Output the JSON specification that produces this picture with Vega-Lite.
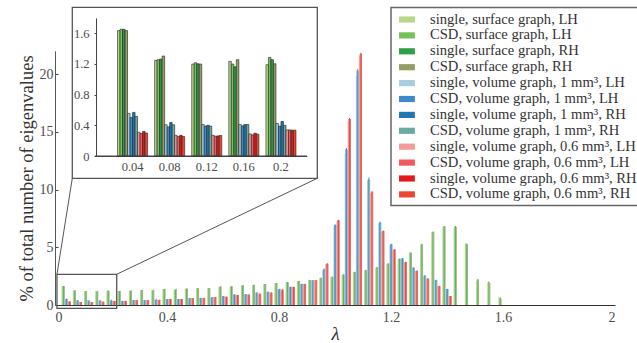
{
"$schema":"https://vega.github.io/schema/vega-lite/v6.json",
"width":560,"height":300,
"autosize":{"type":"none"},
"padding":{"left":55,"top":5,"right":22,"bottom":38},
"config":{"view":{"stroke":null},"font":"Liberation Serif",
"text":{"font":"Liberation Serif"},
"axis":{"labelFont":"Liberation Serif","titleFont":"Liberation Serif","labelColor":"#4d4d4d","titleColor":"#333333","domainColor":"#444444","tickColor":"#444444","grid":false,"titleFontWeight":"normal"},
"legend":{"strokeWidth":1.5,"labelFont":"Liberation Serif"}},
"datasets":{
"series":[{"s":"a","label":"single, surface graph, LH"},{"s":"b","label":"CSD, surface graph, LH"},{"s":"c","label":"single, surface graph, RH"},{"s":"d","label":"CSD, surface graph, RH"},{"s":"e","label":"single, volume graph, 1 mm³, LH"},{"s":"f","label":"CSD, volume graph, 1 mm³, LH"},{"s":"g","label":"single, volume graph, 1 mm³, RH"},{"s":"h","label":"CSD, volume graph, 1 mm³, RH"},{"s":"i","label":"single, volume graph, 0.6 mm³, LH"},{"s":"j","label":"CSD, volume graph, 0.6 mm³, LH"},{"s":"k","label":"single, volume graph, 0.6 mm³, RH"},{"s":"l","label":"CSD, volume graph, 0.6 mm³, RH"}],
"main":[
{"lam":0.04,"s":"a","pct":1.635},{"lam":0.04,"s":"b","pct":1.652},{"lam":0.04,"s":"c","pct":1.652},{"lam":0.04,"s":"d","pct":1.635},{"lam":0.04,"s":"e","pct":0.555},{"lam":0.04,"s":"f","pct":0.503},{"lam":0.04,"s":"g","pct":0.568},{"lam":0.04,"s":"h","pct":0.516},{"lam":0.04,"s":"i","pct":0.31},{"lam":0.04,"s":"j","pct":0.293},{"lam":0.04,"s":"k","pct":0.32},{"lam":0.04,"s":"l","pct":0.3},
{"lam":0.08,"s":"a","pct":1.246},{"lam":0.08,"s":"b","pct":1.255},{"lam":0.08,"s":"c","pct":1.263},{"lam":0.08,"s":"d","pct":1.303},{"lam":0.08,"s":"e","pct":0.407},{"lam":0.08,"s":"f","pct":0.38},{"lam":0.08,"s":"g","pct":0.437},{"lam":0.08,"s":"h","pct":0.407},{"lam":0.08,"s":"i","pct":0.27},{"lam":0.08,"s":"j","pct":0.254},{"lam":0.08,"s":"k","pct":0.27},{"lam":0.08,"s":"l","pct":0.254},
{"lam":0.12,"s":"a","pct":1.198},{"lam":0.12,"s":"b","pct":1.215},{"lam":0.12,"s":"c","pct":1.202},{"lam":0.12,"s":"d","pct":1.198},{"lam":0.12,"s":"e","pct":0.41},{"lam":0.12,"s":"f","pct":0.39},{"lam":0.12,"s":"g","pct":0.4},{"lam":0.12,"s":"h","pct":0.39},{"lam":0.12,"s":"i","pct":0.27},{"lam":0.12,"s":"j","pct":0.258},{"lam":0.12,"s":"k","pct":0.262},{"lam":0.12,"s":"l","pct":0.267},
{"lam":0.16,"s":"a","pct":1.233},{"lam":0.16,"s":"b","pct":1.198},{"lam":0.16,"s":"c","pct":1.163},{"lam":0.16,"s":"d","pct":1.255},{"lam":0.16,"s":"e","pct":0.41},{"lam":0.16,"s":"f","pct":0.393},{"lam":0.16,"s":"g","pct":0.41},{"lam":0.16,"s":"h","pct":0.41},{"lam":0.16,"s":"i","pct":0.288},{"lam":0.16,"s":"j","pct":0.275},{"lam":0.16,"s":"k","pct":0.297},{"lam":0.16,"s":"l","pct":0.284},
{"lam":0.2,"s":"a","pct":1.19},{"lam":0.2,"s":"b","pct":1.285},{"lam":0.2,"s":"c","pct":1.255},{"lam":0.2,"s":"d","pct":1.202},{"lam":0.2,"s":"e","pct":0.424},{"lam":0.2,"s":"f","pct":0.39},{"lam":0.2,"s":"g","pct":0.45},{"lam":0.2,"s":"h","pct":0.4},{"lam":0.2,"s":"i","pct":0.34},{"lam":0.2,"s":"j","pct":0.34},{"lam":0.2,"s":"k","pct":0.337},{"lam":0.2,"s":"l","pct":0.337},
{"lam":0.24,"s":"a","pct":1.19},{"lam":0.24,"s":"b","pct":1.22},{"lam":0.24,"s":"c","pct":1.21},{"lam":0.24,"s":"d","pct":1.24},{"lam":0.24,"s":"e","pct":0.35},{"lam":0.24,"s":"f","pct":0.34},{"lam":0.24,"s":"g","pct":0.36},{"lam":0.24,"s":"h","pct":0.35},{"lam":0.24,"s":"i","pct":0.35},{"lam":0.24,"s":"j","pct":0.34},{"lam":0.24,"s":"k","pct":0.36},{"lam":0.24,"s":"l","pct":0.35},
{"lam":0.28,"s":"a","pct":1.22},{"lam":0.28,"s":"b","pct":1.25},{"lam":0.28,"s":"c","pct":1.24},{"lam":0.28,"s":"d","pct":1.27},{"lam":0.28,"s":"e","pct":0.42},{"lam":0.28,"s":"f","pct":0.43},{"lam":0.28,"s":"g","pct":0.44},{"lam":0.28,"s":"h","pct":0.43},{"lam":0.28,"s":"i","pct":0.43},{"lam":0.28,"s":"j","pct":0.42},{"lam":0.28,"s":"k","pct":0.43},{"lam":0.28,"s":"l","pct":0.43},
{"lam":0.32,"s":"a","pct":1.28},{"lam":0.32,"s":"b","pct":1.3},{"lam":0.32,"s":"c","pct":1.31},{"lam":0.32,"s":"d","pct":1.29},{"lam":0.32,"s":"e","pct":0.43},{"lam":0.32,"s":"f","pct":0.42},{"lam":0.32,"s":"g","pct":0.44},{"lam":0.32,"s":"h","pct":0.43},{"lam":0.32,"s":"i","pct":0.43},{"lam":0.32,"s":"j","pct":0.42},{"lam":0.32,"s":"k","pct":0.44},{"lam":0.32,"s":"l","pct":0.43},
{"lam":0.36,"s":"a","pct":1.27},{"lam":0.36,"s":"b","pct":1.28},{"lam":0.36,"s":"c","pct":1.3},{"lam":0.36,"s":"d","pct":1.34},{"lam":0.36,"s":"e","pct":0.46},{"lam":0.36,"s":"f","pct":0.44},{"lam":0.36,"s":"g","pct":0.55},{"lam":0.36,"s":"h","pct":0.46},{"lam":0.36,"s":"i","pct":0.45},{"lam":0.36,"s":"j","pct":0.44},{"lam":0.36,"s":"k","pct":0.46},{"lam":0.36,"s":"l","pct":0.45},
{"lam":0.4,"s":"a","pct":1.36},{"lam":0.4,"s":"b","pct":1.39},{"lam":0.4,"s":"c","pct":1.38},{"lam":0.4,"s":"d","pct":1.4},{"lam":0.4,"s":"e","pct":0.52},{"lam":0.4,"s":"f","pct":0.51},{"lam":0.4,"s":"g","pct":0.53},{"lam":0.4,"s":"h","pct":0.52},{"lam":0.4,"s":"i","pct":0.52},{"lam":0.4,"s":"j","pct":0.51},{"lam":0.4,"s":"k","pct":0.53},{"lam":0.4,"s":"l","pct":0.52},
{"lam":0.44,"s":"a","pct":1.33},{"lam":0.44,"s":"b","pct":1.35},{"lam":0.44,"s":"c","pct":1.34},{"lam":0.44,"s":"d","pct":1.41},{"lam":0.44,"s":"e","pct":0.52},{"lam":0.44,"s":"f","pct":0.52},{"lam":0.44,"s":"g","pct":0.53},{"lam":0.44,"s":"h","pct":0.52},{"lam":0.44,"s":"i","pct":0.53},{"lam":0.44,"s":"j","pct":0.52},{"lam":0.44,"s":"k","pct":0.53},{"lam":0.44,"s":"l","pct":0.52},
{"lam":0.48,"s":"a","pct":1.4},{"lam":0.48,"s":"b","pct":1.42},{"lam":0.48,"s":"c","pct":1.41},{"lam":0.48,"s":"d","pct":1.42},{"lam":0.48,"s":"e","pct":0.6},{"lam":0.48,"s":"f","pct":0.59},{"lam":0.48,"s":"g","pct":0.61},{"lam":0.48,"s":"h","pct":0.6},{"lam":0.48,"s":"i","pct":0.6},{"lam":0.48,"s":"j","pct":0.59},{"lam":0.48,"s":"k","pct":0.61},{"lam":0.48,"s":"l","pct":0.6},
{"lam":0.52,"s":"a","pct":1.45},{"lam":0.52,"s":"b","pct":1.48},{"lam":0.52,"s":"c","pct":1.47},{"lam":0.52,"s":"d","pct":1.46},{"lam":0.52,"s":"e","pct":0.61},{"lam":0.52,"s":"f","pct":0.6},{"lam":0.52,"s":"g","pct":0.62},{"lam":0.52,"s":"h","pct":0.61},{"lam":0.52,"s":"i","pct":0.62},{"lam":0.52,"s":"j","pct":0.6},{"lam":0.52,"s":"k","pct":0.62},{"lam":0.52,"s":"l","pct":0.61},
{"lam":0.56,"s":"a","pct":1.46},{"lam":0.56,"s":"b","pct":1.48},{"lam":0.56,"s":"c","pct":1.47},{"lam":0.56,"s":"d","pct":1.47},{"lam":0.56,"s":"e","pct":0.69},{"lam":0.56,"s":"f","pct":0.68},{"lam":0.56,"s":"g","pct":0.7},{"lam":0.56,"s":"h","pct":0.69},{"lam":0.56,"s":"i","pct":0.69},{"lam":0.56,"s":"j","pct":0.68},{"lam":0.56,"s":"k","pct":0.7},{"lam":0.56,"s":"l","pct":0.69},
{"lam":0.6,"s":"a","pct":1.56},{"lam":0.6,"s":"b","pct":1.58},{"lam":0.6,"s":"c","pct":1.6},{"lam":0.6,"s":"d","pct":1.64},{"lam":0.6,"s":"e","pct":0.78},{"lam":0.6,"s":"f","pct":0.77},{"lam":0.6,"s":"g","pct":0.79},{"lam":0.6,"s":"h","pct":0.78},{"lam":0.6,"s":"i","pct":0.72},{"lam":0.6,"s":"j","pct":0.71},{"lam":0.6,"s":"k","pct":0.73},{"lam":0.6,"s":"l","pct":0.72},
{"lam":0.64,"s":"a","pct":1.6},{"lam":0.64,"s":"b","pct":1.63},{"lam":0.64,"s":"c","pct":1.62},{"lam":0.64,"s":"d","pct":1.63},{"lam":0.64,"s":"e","pct":0.92},{"lam":0.64,"s":"f","pct":0.9},{"lam":0.64,"s":"g","pct":0.92},{"lam":0.64,"s":"h","pct":0.91},{"lam":0.64,"s":"i","pct":0.87},{"lam":0.64,"s":"j","pct":0.85},{"lam":0.64,"s":"k","pct":0.88},{"lam":0.64,"s":"l","pct":0.86},
{"lam":0.68,"s":"a","pct":1.68},{"lam":0.68,"s":"b","pct":1.71},{"lam":0.68,"s":"c","pct":1.7},{"lam":0.68,"s":"d","pct":1.71},{"lam":0.68,"s":"e","pct":0.95},{"lam":0.68,"s":"f","pct":0.94},{"lam":0.68,"s":"g","pct":0.96},{"lam":0.68,"s":"h","pct":0.95},{"lam":0.68,"s":"i","pct":0.9},{"lam":0.68,"s":"j","pct":0.89},{"lam":0.68,"s":"k","pct":0.91},{"lam":0.68,"s":"l","pct":0.9},
{"lam":0.72,"s":"a","pct":1.72},{"lam":0.72,"s":"b","pct":1.76},{"lam":0.72,"s":"c","pct":1.76},{"lam":0.72,"s":"d","pct":1.74},{"lam":0.72,"s":"e","pct":1.08},{"lam":0.72,"s":"f","pct":1.05},{"lam":0.72,"s":"g","pct":1.12},{"lam":0.72,"s":"h","pct":1.08},{"lam":0.72,"s":"i","pct":0.98},{"lam":0.72,"s":"j","pct":0.97},{"lam":0.72,"s":"k","pct":1.0},{"lam":0.72,"s":"l","pct":0.98},
{"lam":0.76,"s":"a","pct":1.8},{"lam":0.76,"s":"b","pct":1.82},{"lam":0.76,"s":"c","pct":1.82},{"lam":0.76,"s":"d","pct":1.82},{"lam":0.76,"s":"e","pct":1.14},{"lam":0.76,"s":"f","pct":1.13},{"lam":0.76,"s":"g","pct":1.16},{"lam":0.76,"s":"h","pct":1.14},{"lam":0.76,"s":"i","pct":1.08},{"lam":0.76,"s":"j","pct":1.07},{"lam":0.76,"s":"k","pct":1.1},{"lam":0.76,"s":"l","pct":1.08},
{"lam":0.8,"s":"a","pct":1.88},{"lam":0.8,"s":"b","pct":1.9},{"lam":0.8,"s":"c","pct":1.9},{"lam":0.8,"s":"d","pct":1.89},{"lam":0.8,"s":"e","pct":1.38},{"lam":0.8,"s":"f","pct":1.36},{"lam":0.8,"s":"g","pct":1.41},{"lam":0.8,"s":"h","pct":1.38},{"lam":0.8,"s":"i","pct":1.33},{"lam":0.8,"s":"j","pct":1.32},{"lam":0.8,"s":"k","pct":1.36},{"lam":0.8,"s":"l","pct":1.33},
{"lam":0.84,"s":"a","pct":1.96},{"lam":0.84,"s":"b","pct":1.99},{"lam":0.84,"s":"c","pct":2.0},{"lam":0.84,"s":"d","pct":1.98},{"lam":0.84,"s":"e","pct":1.56},{"lam":0.84,"s":"f","pct":1.58},{"lam":0.84,"s":"g","pct":1.59},{"lam":0.84,"s":"h","pct":1.57},{"lam":0.84,"s":"i","pct":1.57},{"lam":0.84,"s":"j","pct":1.56},{"lam":0.84,"s":"k","pct":1.58},{"lam":0.84,"s":"l","pct":1.57},
{"lam":0.88,"s":"a","pct":2.06},{"lam":0.88,"s":"b","pct":2.08},{"lam":0.88,"s":"c","pct":2.08},{"lam":0.88,"s":"d","pct":2.07},{"lam":0.88,"s":"e","pct":1.84},{"lam":0.88,"s":"f","pct":1.82},{"lam":0.88,"s":"g","pct":1.85},{"lam":0.88,"s":"h","pct":1.83},{"lam":0.88,"s":"i","pct":1.82},{"lam":0.88,"s":"j","pct":1.81},{"lam":0.88,"s":"k","pct":1.83},{"lam":0.88,"s":"l","pct":1.82},
{"lam":0.92,"s":"a","pct":2.15},{"lam":0.92,"s":"b","pct":2.16},{"lam":0.92,"s":"c","pct":2.17},{"lam":0.92,"s":"d","pct":2.16},{"lam":0.92,"s":"e","pct":2.16},{"lam":0.92,"s":"f","pct":2.15},{"lam":0.92,"s":"g","pct":2.17},{"lam":0.92,"s":"h","pct":2.16},{"lam":0.92,"s":"i","pct":2.16},{"lam":0.92,"s":"j","pct":2.15},{"lam":0.92,"s":"k","pct":2.17},{"lam":0.92,"s":"l","pct":2.16},
{"lam":0.96,"s":"a","pct":2.34},{"lam":0.96,"s":"b","pct":2.36},{"lam":0.96,"s":"c","pct":2.36},{"lam":0.96,"s":"d","pct":2.35},{"lam":0.96,"s":"e","pct":3.05},{"lam":0.96,"s":"f","pct":3.09},{"lam":0.96,"s":"g","pct":3.15},{"lam":0.96,"s":"h","pct":3.09},{"lam":0.96,"s":"i","pct":3.55},{"lam":0.96,"s":"j","pct":3.58},{"lam":0.96,"s":"k","pct":3.62},{"lam":0.96,"s":"l","pct":3.58},
{"lam":1,"s":"a","pct":2.42},{"lam":1,"s":"b","pct":2.45},{"lam":1,"s":"c","pct":2.46},{"lam":1,"s":"d","pct":2.45},{"lam":1,"s":"e","pct":6.85},{"lam":1,"s":"f","pct":6.95},{"lam":1,"s":"g","pct":6.98},{"lam":1,"s":"h","pct":6.92},{"lam":1,"s":"i","pct":7.25},{"lam":1,"s":"j","pct":7.33},{"lam":1,"s":"k","pct":7.38},{"lam":1,"s":"l","pct":7.33},
{"lam":1.04,"s":"a","pct":2.62},{"lam":1.04,"s":"b","pct":2.65},{"lam":1.04,"s":"c","pct":2.67},{"lam":1.04,"s":"d","pct":2.65},{"lam":1.04,"s":"e","pct":13.1},{"lam":1.04,"s":"f","pct":13.5},{"lam":1.04,"s":"g","pct":13.6},{"lam":1.04,"s":"h","pct":13.45},{"lam":1.04,"s":"i","pct":15.9},{"lam":1.04,"s":"j","pct":16.1},{"lam":1.04,"s":"k","pct":16.2},{"lam":1.04,"s":"l","pct":16.1},
{"lam":1.08,"s":"a","pct":2.84},{"lam":1.08,"s":"b","pct":2.86},{"lam":1.08,"s":"c","pct":2.88},{"lam":1.08,"s":"d","pct":2.86},{"lam":1.08,"s":"e","pct":19.8},{"lam":1.08,"s":"f","pct":20.3},{"lam":1.08,"s":"g","pct":20.45},{"lam":1.08,"s":"h","pct":20.3},{"lam":1.08,"s":"i","pct":21.6},{"lam":1.08,"s":"j","pct":21.75},{"lam":1.08,"s":"k","pct":21.85},{"lam":1.08,"s":"l","pct":21.75},
{"lam":1.12,"s":"a","pct":3.0},{"lam":1.12,"s":"b","pct":3.04},{"lam":1.12,"s":"c","pct":3.06},{"lam":1.12,"s":"d","pct":3.03},{"lam":1.12,"s":"e","pct":10.8},{"lam":1.12,"s":"f","pct":10.9},{"lam":1.12,"s":"g","pct":11.05},{"lam":1.12,"s":"h","pct":10.85},{"lam":1.12,"s":"i","pct":9.7},{"lam":1.12,"s":"j","pct":9.8},{"lam":1.12,"s":"k","pct":9.85},{"lam":1.12,"s":"l","pct":9.8},
{"lam":1.16,"s":"a","pct":3.24},{"lam":1.16,"s":"b","pct":3.27},{"lam":1.16,"s":"c","pct":3.28},{"lam":1.16,"s":"d","pct":3.26},{"lam":1.16,"s":"e","pct":7.1},{"lam":1.16,"s":"f","pct":7.15},{"lam":1.16,"s":"g","pct":7.22},{"lam":1.16,"s":"h","pct":7.15},{"lam":1.16,"s":"i","pct":6.35},{"lam":1.16,"s":"j","pct":6.4},{"lam":1.16,"s":"k","pct":6.45},{"lam":1.16,"s":"l","pct":6.4},
{"lam":1.2,"s":"a","pct":3.55},{"lam":1.2,"s":"b","pct":3.6},{"lam":1.2,"s":"c","pct":3.62},{"lam":1.2,"s":"d","pct":3.6},{"lam":1.2,"s":"e","pct":5.2},{"lam":1.2,"s":"f","pct":5.25},{"lam":1.2,"s":"g","pct":5.3},{"lam":1.2,"s":"h","pct":5.25},{"lam":1.2,"s":"i","pct":4.78},{"lam":1.2,"s":"j","pct":4.8},{"lam":1.2,"s":"k","pct":4.83},{"lam":1.2,"s":"l","pct":4.8},
{"lam":1.24,"s":"a","pct":3.95},{"lam":1.24,"s":"b","pct":4.0},{"lam":1.24,"s":"c","pct":4.02},{"lam":1.24,"s":"d","pct":4.0},{"lam":1.24,"s":"e","pct":4.0},{"lam":1.24,"s":"f","pct":4.04},{"lam":1.24,"s":"g","pct":4.07},{"lam":1.24,"s":"h","pct":4.04},{"lam":1.24,"s":"i","pct":3.7},{"lam":1.24,"s":"j","pct":3.72},{"lam":1.24,"s":"k","pct":3.75},{"lam":1.24,"s":"l","pct":3.72},
{"lam":1.28,"s":"a","pct":4.5},{"lam":1.28,"s":"b","pct":4.56},{"lam":1.28,"s":"c","pct":4.55},{"lam":1.28,"s":"d","pct":4.52},{"lam":1.28,"s":"e","pct":3.2},{"lam":1.28,"s":"f","pct":3.25},{"lam":1.28,"s":"g","pct":3.26},{"lam":1.28,"s":"h","pct":3.22},{"lam":1.28,"s":"i","pct":2.95},{"lam":1.28,"s":"j","pct":2.97},{"lam":1.28,"s":"k","pct":2.99},{"lam":1.28,"s":"l","pct":2.97},
{"lam":1.32,"s":"a","pct":5.2},{"lam":1.32,"s":"b","pct":5.28},{"lam":1.32,"s":"c","pct":5.3},{"lam":1.32,"s":"d","pct":5.25},{"lam":1.32,"s":"e","pct":2.5},{"lam":1.32,"s":"f","pct":2.55},{"lam":1.32,"s":"g","pct":2.6},{"lam":1.32,"s":"h","pct":2.55},{"lam":1.32,"s":"i","pct":2.28},{"lam":1.32,"s":"j","pct":2.3},{"lam":1.32,"s":"k","pct":2.32},{"lam":1.32,"s":"l","pct":2.3},
{"lam":1.36,"s":"a","pct":6.3},{"lam":1.36,"s":"b","pct":6.35},{"lam":1.36,"s":"c","pct":6.37},{"lam":1.36,"s":"d","pct":6.35},{"lam":1.36,"s":"e","pct":2.14},{"lam":1.36,"s":"f","pct":2.16},{"lam":1.36,"s":"g","pct":2.18},{"lam":1.36,"s":"h","pct":2.16},{"lam":1.36,"s":"i","pct":1.63},{"lam":1.36,"s":"j","pct":1.65},{"lam":1.36,"s":"k","pct":1.66},{"lam":1.36,"s":"l","pct":1.65},
{"lam":1.4,"s":"a","pct":6.75},{"lam":1.4,"s":"b","pct":6.82},{"lam":1.4,"s":"c","pct":6.85},{"lam":1.4,"s":"d","pct":6.8},{"lam":1.4,"s":"e","pct":1.36},{"lam":1.4,"s":"f","pct":1.38},{"lam":1.4,"s":"g","pct":1.4},{"lam":1.4,"s":"h","pct":1.38},{"lam":1.4,"s":"i","pct":0.77},{"lam":1.4,"s":"j","pct":0.78},{"lam":1.4,"s":"k","pct":0.79},{"lam":1.4,"s":"l","pct":0.78},
{"lam":1.44,"s":"a","pct":6.72},{"lam":1.44,"s":"b","pct":6.8},{"lam":1.44,"s":"c","pct":6.84},{"lam":1.44,"s":"d","pct":6.78},
{"lam":1.48,"s":"a","pct":5.3},{"lam":1.48,"s":"b","pct":5.34},{"lam":1.48,"s":"c","pct":5.3},{"lam":1.48,"s":"d","pct":5.25},
{"lam":1.52,"s":"a","pct":2.1},{"lam":1.52,"s":"b","pct":2.2},{"lam":1.52,"s":"c","pct":2.25},{"lam":1.52,"s":"d","pct":2.18},
{"lam":1.56,"s":"a","pct":1.95},{"lam":1.56,"s":"b","pct":2.05},{"lam":1.56,"s":"c","pct":2.0},{"lam":1.56,"s":"d","pct":1.9},
{"lam":1.6,"s":"a","pct":0.72},{"lam":1.6,"s":"b","pct":0.6},{"lam":1.6,"s":"c","pct":0.65},{"lam":1.6,"s":"d","pct":0.55}
]},
"layer":[
{"data":{"name":"main"},
"transform":[{"lookup":"s","from":{"data":{"name":"series"},"key":"s","fields":["label"]}}],
"mark":{"type":"bar"},
"encoding":{
"x":{"field":"lam","type":"ordinal","scale":{"domain":[0.04,0.08,0.12,0.16,0.2,0.24,0.28,0.32,0.36,0.4,0.44,0.48,0.52,0.56,0.6,0.64,0.68,0.72,0.76,0.8,0.84,0.88,0.92,0.96,1,1.04,1.08,1.12,1.16,1.2,1.24,1.28,1.32,1.36,1.4,1.44,1.48,1.52,1.56,1.6,1.64,1.68,1.72,1.76,1.8,1.84,1.88,1.92,1.96,2],"range":[5.6,565.6],"paddingInner":0.18,"paddingOuter":0.09},"axis":null},
"xOffset":{"field":"s","type":"nominal","sort":"ascending"},
"y":{"field":"pct","type":"quantitative","scale":{"domain":[0,22],"range":[300,45.9],"nice":false,"zero":false},"axis":{"orient":"left","values":[0,5,10,15,20],"title":"% of total number of eigenvalues","titleFont":"Liberation Serif","labelFont":"Liberation Serif","titleFontSize":18.5,"labelFontSize":14,"labelPadding":5,"tickSize":-3,"titlePadding":3,"domainColor":"#555555"}},
"color":{"field":"label","type":"nominal","scale":{"domain":["single, surface graph, LH","CSD, surface graph, LH","single, surface graph, RH","CSD, surface graph, RH","single, volume graph, 1 mm³, LH","CSD, volume graph, 1 mm³, LH","single, volume graph, 1 mm³, RH","CSD, volume graph, 1 mm³, RH","single, volume graph, 0.6 mm³, LH","CSD, volume graph, 0.6 mm³, LH","single, volume graph, 0.6 mm³, RH","CSD, volume graph, 0.6 mm³, RH"],"range":["#b4d98c","#76c259","#2e9f48","#959c64","#a6cee3","#3e89c8","#1f78b4","#6aaaa0","#f59a9a","#ef5a5f","#e31a1c","#ea4632"]},
"legend":{"title":null,"orient":"none","legendX":336,"legendY":2.5,"padding":4,"strokeColor":"#666666","fillColor":"#ffffff","symbolType":"M-0.5,-0.39H1.5V0.39H-0.5Z","symbolSize":251,"symbolStrokeWidth":0,"symbolOpacity":1,"labelFontSize":14.6,"labelColor":"#333333","labelFont":"Liberation Serif","labelLimit":400,"labelOffset":19,"rowPadding":0.9}}
}},
{"encoding":{
"x":{"field":"x0","type":"quantitative","scale":{"domain":[0,2],"range":[0,560],"nice":false,"zero":false},"axis":{"orient":"bottom","values":[0,0.4,0.8,1.2,1.6,2],"format":"~g","title":"λ","titleFont":"Liberation Serif","labelFont":"Liberation Serif","titleFontSize":19,"titleFontStyle":"italic","labelFontSize":14,"labelPadding":5,"ticks":false,"titlePadding":0,"domainColor":"#333333","domainWidth":1.2}},
"x2":{"field":"x1"},
"y":{"field":"y0","type":"quantitative","scale":{"domain":[0,22],"range":[300,45.9],"nice":false,"zero":false},"axis":null},
"y2":{"field":"y1"}},
"layer":[
{"data":{"values":[{"x0":0.007,"x1":0.2204,"y0":-0.29,"y1":2.66},{"x0":0.0618,"x1":0.9368,"y0":10.97,"y1":25.77}]},
"mark":{"type":"rect","fill":"#ffffff","fillOpacity":0,"stroke":"#555555","strokeWidth":1.3}},
{"data":{"values":[{"x0":0.007,"y0":2.66,"x1":0.0618,"y1":10.97},{"x0":0.2204,"y0":2.66,"x1":0.9368,"y1":10.97}]},
"mark":{"type":"rule","color":"#555555","strokeWidth":1}}
]},
{"layer":[
{"data":{"name":"main"},
"transform":[{"filter":"datum.lam <= 0.2"},{"lookup":"s","from":{"data":{"name":"series"},"key":"s","fields":["label"]}}],
"mark":{"type":"bar","stroke":"#222222","strokeWidth":0.6},
"encoding":{
"x":{"field":"lam","type":"ordinal","scale":{"domain":[0.04,0.08,0.12,0.16,0.2],"range":[59,244.5],"paddingInner":0.19,"paddingOuter":0.095},"axis":null},
"xOffset":{"field":"s","type":"nominal","sort":"ascending"},
"y":{"field":"pct","type":"quantitative","scale":{"domain":[0,1.8],"range":[151,12.9],"nice":false,"zero":false},"axis":{"orient":"left","offset":-41,"values":[0,0.4,0.8,1.2,1.6],"format":"~g","title":null,"labelFont":"Liberation Serif","labelFontSize":12.5,"labelPadding":5,"tickSize":2,"domainColor":"#444444"}},
"color":{"field":"label","type":"nominal","scale":{"domain":["single, surface graph, LH","CSD, surface graph, LH","single, surface graph, RH","CSD, surface graph, RH","single, volume graph, 1 mm³, LH","CSD, volume graph, 1 mm³, LH","single, volume graph, 1 mm³, RH","CSD, volume graph, 1 mm³, RH","single, volume graph, 0.6 mm³, LH","CSD, volume graph, 0.6 mm³, LH","single, volume graph, 0.6 mm³, RH","CSD, volume graph, 0.6 mm³, RH"],"range":["#b4d98c","#76c259","#2e9f48","#959c64","#a6cee3","#3e89c8","#1f78b4","#6aaaa0","#f59a9a","#ef5a5f","#e31a1c","#ea4632"]}}
}},
{"data":{"values":[{"a":0,"b":0.2285,"z":0}]},
"mark":{"type":"rule","color":"#444444","strokeWidth":1},
"encoding":{
"x":{"field":"a","type":"quantitative","scale":{"domain":[0,0.2285],"range":[40,251.8],"nice":false,"zero":false},"axis":{"orient":"bottom","offset":-149,"values":[0.04,0.08,0.12,0.16,0.2],"format":"~g","title":null,"labelFont":"Liberation Serif","labelFontSize":12.5,"labelPadding":4,"ticks":false,"domainColor":"#444444"}},
"x2":{"field":"b"},
"y":{"field":"z","type":"quantitative","scale":{"domain":[0,1.8],"range":[151,12.9],"nice":false,"zero":false},"axis":{"orient":"left","offset":-41,"values":[0,0.4,0.8,1.2,1.6],"format":"~g","title":null,"labelFont":"Liberation Serif","labelFontSize":12.5,"labelPadding":5,"tickSize":2,"domainColor":"#444444"}}
}}
],
"resolve":{"scale":{"x":"independent"}}}
],
"resolve":{"scale":{"x":"independent","y":"independent","xOffset":"independent"}}
}
